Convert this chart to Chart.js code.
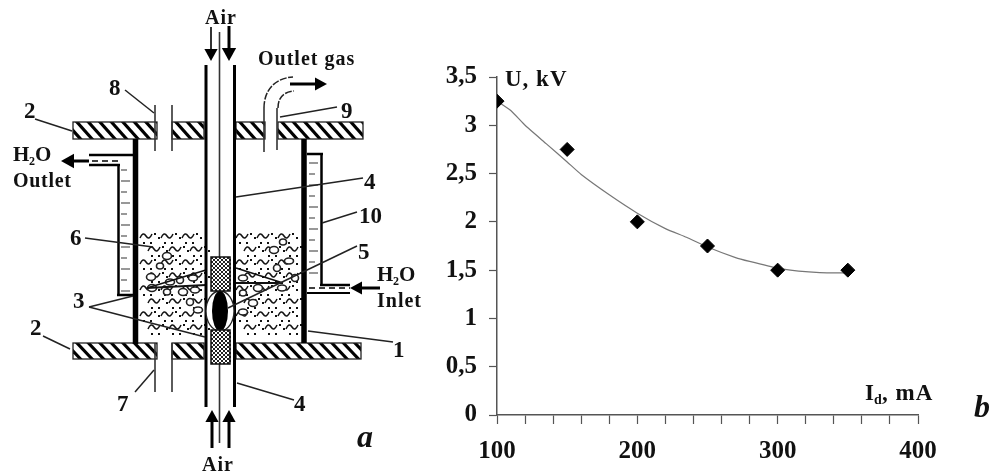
<!DOCTYPE html>
<html>
<head>
<meta charset="utf-8">
<script src="https://cdn.jsdelivr.net/npm/chart.js@4"></script>
<style>
    body { margin: 0; background: #fff; }
    canvas { display: block; filter: blur(0.35px); }
</style>
</head>
<body>
<canvas id="chart" width="994" height="475"></canvas>
<script>
var current = [100, 150, 200, 250, 300, 350];
var voltage = [3.25, 2.75, 2, 1.75, 1.5, 1.5];
var trendCurrent = [100, 110, 120, 135, 150, 160, 180, 200, 220, 235, 250, 270, 280, 300, 315, 330, 350];
var trendVoltage = [3.25, 3.15, 3.0, 2.81, 2.62, 2.49, 2.28, 2.09, 1.93, 1.84, 1.74, 1.63, 1.59, 1.52, 1.49, 1.475, 1.47];
var labeledCurrents = [100, 200, 300, 400];

var serif = '"Liberation Serif"';
var bubbles = [[283,242],[274,250],[289,261],[277,268],[243,278],[258,288],[243,293],[253,303],[243,312],[295,278],[282,288],
    [167,256],[160,266],[151,277],[170,282],[180,280],[193,278],[152,288],[167,292],[183,292],[195,290],[190,302],[198,310]];

// the reactor sketch on the left and the loose labels
function drawSketch(ctx) {
    function line(x1, y1, x2, y2, w, col) {
        ctx.strokeStyle = col || '#222';
        ctx.lineWidth = w || 1.5;
        ctx.beginPath();
        ctx.moveTo(x1, y1);
        ctx.lineTo(x2, y2);
        ctx.stroke();
    }
    function arrow(x1, y1, x2, y2, w, head) {
        var a = Math.atan2(y2 - y1, x2 - x1);
        line(x1, y1, x2 - Math.cos(a) * head * 0.8, y2 - Math.sin(a) * head * 0.8, w, '#000');
        ctx.fillStyle = '#000';
        ctx.beginPath();
        ctx.moveTo(x2, y2);
        ctx.lineTo(x2 - Math.cos(a) * head - Math.sin(a) * head * 0.55, y2 - Math.sin(a) * head + Math.cos(a) * head * 0.55);
        ctx.lineTo(x2 - Math.cos(a) * head + Math.sin(a) * head * 0.55, y2 - Math.sin(a) * head - Math.cos(a) * head * 0.55);
        ctx.fill();
    }
    function txt(s, x, y, size, style, spacing) {
        ctx.font = (style || 'bold') + ' ' + size + 'px ' + serif;
        ctx.letterSpacing = (spacing || 0) + 'px';
        ctx.fillStyle = '#111';
        ctx.textAlign = 'left';
        ctx.textBaseline = 'alphabetic';
        ctx.fillText(s, x, y);
        ctx.letterSpacing = '0px';
    }
    function plate(x1, y1, x2, y2) {
        ctx.save();
        ctx.beginPath();
        ctx.rect(x1, y1, x2 - x1, y2 - y1);
        ctx.clip();
        ctx.fillStyle = '#fff';
        ctx.fillRect(x1, y1, x2 - x1, y2 - y1);
        for (var x = x1 - 20; x < x2 + 5; x += 11.5) {
            line(x, y1 - 1, x + 17, y2 + 1, 3.2, '#000');
        }
        ctx.restore();
        ctx.strokeStyle = '#222';
        ctx.lineWidth = 1.3;
        ctx.strokeRect(x1, y1, x2 - x1, y2 - y1);
    }
    function checker(x1, y1, x2, y2) {
        ctx.fillStyle = '#fff';
        ctx.fillRect(x1, y1, x2 - x1, y2 - y1);
        ctx.fillStyle = '#222';
        for (var y = y1; y < y2; y += 2) {
            for (var x = x1 + ((y - y1) % 4 ? 2 : 0); x < x2; x += 4) {
                ctx.fillRect(x, y, 2, 2);
            }
        }
        ctx.strokeStyle = '#111';
        ctx.lineWidth = 1.5;
        ctx.strokeRect(x1, y1, x2 - x1, y2 - y1);
    }
    function waves(x1, x2) {
        ctx.strokeStyle = '#111';
        ctx.lineWidth = 1.5;
        var row = 0;
        for (var y = 236; y < 340; y += 13) {
            for (var x = x1 + (row % 2 ? 8 : 0); x < x2 - 12; x += 21) {
                ctx.beginPath();
                ctx.moveTo(x, y + 2);
                ctx.quadraticCurveTo(x + 3, y - 5, x + 6, y);
                ctx.quadraticCurveTo(x + 9, y + 5, x + 12, y - 2);
                ctx.stroke();
                ctx.fillStyle = '#111';
                ctx.fillRect(x + 14, y - 3, 2, 2);
                ctx.fillRect(x + 18, y + 1, 2, 2);
                ctx.fillRect(x + 3, y + 6, 2, 2);
                ctx.fillRect(x + 10, y + 6, 2, 2);
            }
            row++;
        }
    }

    ctx.save();
    waves(140, 205);
    waves(236, 300);
    ctx.strokeStyle = '#222';
    ctx.lineWidth = 1.6;
    ctx.fillStyle = '#fff';
    bubbles.forEach(function (b, i) {
        ctx.beginPath();
        ctx.ellipse(b[0], b[1], i % 3 ? 4.5 : 3.5, i % 2 ? 3.5 : 3, 0, 0, Math.PI * 2);
        ctx.fill();
        ctx.stroke();
    });

    // cones of the discharge
    line(147, 288, 206, 270, 1.8, '#111');
    line(147, 288, 206, 285, 1.8, '#111');
    line(236, 268, 283, 283, 1.8, '#111');
    line(236, 283, 283, 283, 1.8, '#111');

    // plates
    [[73, 157], [172, 204], [236, 265], [278, 363]].forEach(function (s) { plate(s[0], 122, s[1], 139); });
    [[73, 157], [172, 204], [236, 361]].forEach(function (s) { plate(s[0], 343, s[1], 359); });

    // chamber walls
    line(135.5, 139, 135.5, 344, 5.5, '#000');
    line(304, 139, 304, 343, 5.5, '#000');

    // cooling jackets
    line(89, 155, 133, 155, 2.5, '#000');
    line(89, 165, 120, 165, 2.5, '#000');
    line(118.5, 165, 118.5, 295, 2.5, '#000');
    line(117, 295, 133, 295, 2.5, '#000');
    line(307, 154, 323, 154, 2.5, '#000');
    line(321.5, 154, 321.5, 286, 2.5, '#000');
    line(320, 285, 350, 285, 2.5, '#000');
    line(307, 293, 350, 293, 1.8, '#000');
    ctx.setLineDash([6, 4]);
    line(92, 161, 122, 161, 1.6, '#000');
    line(309, 288, 350, 288, 1.6, '#000');
    ctx.setLineDash([]);
    var y;
    for (y = 170; y < 292; y += 11) {
        line(121, y, 127 + (y % 2) * 3, y, 1.1, '#444');
    }
    for (y = 163; y < 284; y += 11) {
        line(309, y, 315 + (y % 2) * 3, y, 1.1, '#444');
    }

    // central tubes and electrodes
    line(206, 65, 206, 407, 3, '#000');
    line(234.5, 65, 234.5, 407, 3, '#000');
    line(219.5, 32, 219.5, 258, 1.6, '#333');
    line(219.5, 364, 219.5, 443, 1.6, '#333');
    ctx.fillStyle = '#fff';
    ctx.strokeStyle = '#222';
    ctx.lineWidth = 1.3;
    ctx.beginPath();
    ctx.ellipse(220, 311, 14, 20, 0, 0, Math.PI * 2);
    ctx.fill();
    ctx.stroke();
    ctx.fillStyle = '#000';
    ctx.beginPath();
    ctx.ellipse(220, 311, 8, 20, 0, 0, Math.PI * 2);
    ctx.fill();
    checker(211, 257, 230, 291);
    checker(211, 330, 230, 364);

    // side pipes
    line(155, 105, 155, 151, 1.6, '#333');
    line(172, 105, 172, 151, 1.6, '#333');
    line(155, 343, 155, 392, 1.6, '#333');
    line(172, 343, 172, 392, 1.6, '#333');
    line(264, 108, 264, 152, 1.6, '#333');
    line(277, 108, 277, 150, 1.6, '#333');
    ctx.strokeStyle = '#222';
    ctx.lineWidth = 1.5;
    ctx.setLineDash([7, 1.5]);
    ctx.beginPath();
    ctx.moveTo(264, 108);
    ctx.bezierCurveTo(264, 90, 275, 78, 293, 77);
    ctx.moveTo(278, 108);
    ctx.bezierCurveTo(278, 98, 283, 92, 294, 91);
    ctx.stroke();
    ctx.setLineDash([]);

    // flow arrows
    arrow(211, 27, 211, 61, 1.6, 12);
    arrow(229, 26, 229, 61, 3, 13);
    arrow(290, 84, 327, 84, 3, 12);
    arrow(89, 161, 61, 161, 3, 13);
    arrow(380, 288, 350, 288, 3, 12);
    arrow(212, 448, 212, 410, 3, 12);
    arrow(229, 448, 229, 410, 3, 12);

    // leader lines
    line(125, 90, 154, 113);
    line(35, 119, 72, 131);
    line(337, 107, 280, 117);
    line(363, 178, 236, 197);
    line(357, 212, 322, 223);
    line(85, 238, 153, 247);
    line(357, 246, 228, 308);
    line(308, 331, 393, 342);
    line(237, 383, 294, 400);
    line(135, 392, 154, 370);
    line(43, 336, 70, 349);
    line(89, 307, 133, 296);
    line(89, 307, 205, 337);

    // sketch labels
    txt('Air', 205, 24, 20, 'bold', 1);
    txt('Air', 202, 471, 20, 'bold', 1);
    txt('Outlet gas', 258, 65, 20, 'bold', 1);
    txt('H', 13, 161, 21);
    txt('2', 29, 165, 12);
    txt('O', 35, 161, 21);
    txt('Outlet', 13, 187, 20, 'bold', 0.7);
    txt('H', 377, 281, 21);
    txt('2', 393, 285, 12);
    txt('O', 399, 281, 21);
    txt('Inlet', 377, 307, 20, 'bold', 1);
    txt('8', 109, 95, 23);
    txt('2', 24, 118, 23);
    txt('9', 341, 118, 23);
    txt('4', 364, 189, 23);
    txt('10', 359, 223, 23);
    txt('6', 70, 245, 23);
    txt('5', 358, 259, 23);
    txt('3', 73, 308, 23);
    txt('2', 30, 335, 23);
    txt('1', 393, 357, 23);
    txt('4', 294, 411, 23);
    txt('7', 117, 411, 23);
    txt('a', 357, 447, 32, 'italic bold');

    // chart labels
    txt('U, kV', 505, 86, 23, 'bold', 1);
    txt('I', 865, 400, 23, 'bold');
    txt('d', 874, 404, 14, 'bold');
    txt(', mA', 882, 400, 23, 'bold', 1);
    txt('b', 974, 417, 32, 'italic bold');
    ctx.restore();
}

var sketchPlugin = {
    id: 'sketch',
    afterDraw: function (chart) {
        drawSketch(chart.ctx);
    }
};

var tickFont = { family: serif, size: 25, weight: 'bold' };

new Chart(document.getElementById('chart'), {
    type: 'scatter',
    data: {
        datasets: [{
            label: 'U',
            data: current.map(function (c, i) { return { x: c, y: voltage[i] }; }),
            pointStyle: 'rectRot',
            pointRadius: 7,
            backgroundColor: '#000',
            borderColor: '#000',
            showLine: false
        }, {
            label: 'trend',
            data: trendCurrent.map(function (c, i) { return { x: c, y: trendVoltage[i] }; }),
            showLine: true,
            pointRadius: 0,
            borderColor: '#777',
            borderWidth: 1.2,
            tension: 0.15
        }]
    },
    options: {
        responsive: false,
        animation: false,
        layout: { padding: { top: 77, right: 76, left: 0, bottom: 0 } },
        plugins: { legend: { display: false }, tooltip: { enabled: false } },
        scales: {
            x: {
                type: 'linear',
                min: 100,
                max: 400,
                afterFit: function (scale) { scale.height = 60; },
                border: { color: '#555', width: 1.5 },
                grid: { drawOnChartArea: false, drawTicks: true, tickLength: 9, tickColor: '#555', tickWidth: 1.2 },
                ticks: {
                    stepSize: 20,
                    autoSkip: false,
                    maxRotation: 0,
                    padding: 13,
                    color: '#111',
                    font: tickFont,
                    callback: function (v) { return labeledCurrents.indexOf(v) >= 0 ? String(v) : ''; }
                }
            },
            y: {
                min: 0,
                max: 3.5,
                afterFit: function (scale) { scale.width = 497; },
                border: { color: '#555', width: 1.5 },
                grid: { drawOnChartArea: false, drawTicks: true, tickLength: 8, tickColor: '#555', tickWidth: 1.2 },
                ticks: {
                    stepSize: 0.5,
                    padding: 12,
                    color: '#111',
                    font: tickFont,
                    callback: function (v) { return String(v).replace('.', ','); }
                }
            }
        }
    },
    plugins: [sketchPlugin]
});
</script>
</body>
</html>
